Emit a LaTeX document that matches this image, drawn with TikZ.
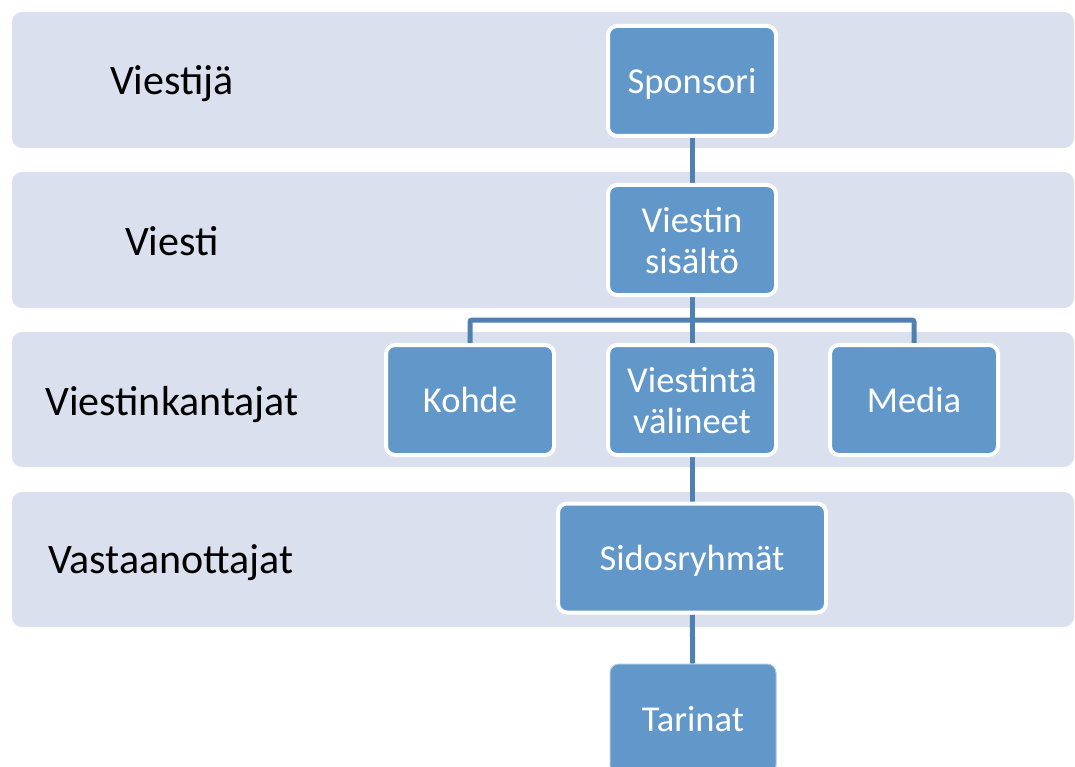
\documentclass[tikz,border=0pt]{standalone}
\usepackage{fontspec}
\setmainfont{Carlito}
\usetikzlibrary{backgrounds}
\definecolor{bandfill}{HTML}{DAE0EE}
\definecolor{unitfill}{HTML}{6297CA}
\definecolor{linkcol}{HTML}{4E80B2}
\tikzstyle{band}=[fill=bandfill, rounded corners=10pt]
\tikzstyle{unit}=[rectangle, draw=white, fill=unitfill, line width=4pt, rounded corners=9pt, minimum width=168pt, minimum height=110pt, text=white, text depth=0pt, align=center, font=\fontsize{36.5}{41}\selectfont]
\tikzstyle{rowlabel}=[anchor=base, inner sep=0pt, font=\fontsize{42}{48}\selectfont]
\tikzstyle{link}=[draw=linkcol, line width=5pt, rounded corners=2pt]
\newcommand{\unitnode}{\node[unit]}

\begin{document}
\begin{tikzpicture}[x=1pt, y=-1pt]
\useasboundingbox (0,0) rectangle (1075,767);
\node[rowlabel] (viestija) at (172,95) {Viestijä};
\node[rowlabel] (viesti) at (172,255) {Viesti};
\node[rowlabel] (kantajat) at (172,415) {Viestinkantajat};
\node[rowlabel] (vastaanottajat) at (171,573) {Vastaanottajat};
\unitnode (sponsori) at (692,81) {Sponsori};
\unitnode (sisalto) at (692,240) {Viestin\\sisältö};
\unitnode (kohde) at (470,400) {Kohde};
\unitnode (valineet) at (692,400) {Viestintä\\välineet};
\unitnode (media) at (914,400) {Media};
\unitnode (sidos) at (692,558)[minimum width=268pt, minimum height=109pt]{Sidosryhmät};
\unitnode (tarinat) at (693,719)[draw=unitfill!55!white, line width=1pt, minimum width=166pt]{Tarinat};
\coordinate (haara) at (692,320);
\begin{pgfonlayer}{background}
\fill[band] (12,12) rectangle (1074,148);
\fill[band] (12,172) rectangle (1074,308);
\fill[band] (12,332) rectangle (1074,467);
\fill[band] (12,492) rectangle (1074,627);
\draw[link] (sponsori) -- (sisalto);
\draw[link] (sisalto) -- (haara);
\draw[link] (kohde) |- (haara) -| (media);
\draw[link] (haara) -- (valineet);
\draw[link] (valineet) -- (sidos);
\draw[link] (sidos) -- (tarinat);
\end{pgfonlayer}
\end{tikzpicture}
\end{document}
